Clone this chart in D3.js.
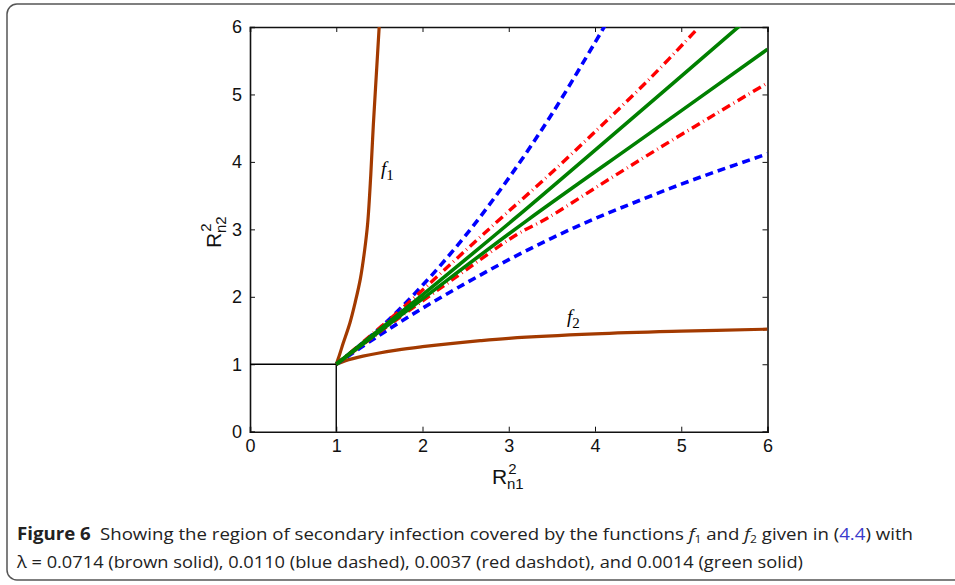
<!DOCTYPE html>
<html>
<head>
<meta charset="utf-8">
<script src="https://cdn.jsdelivr.net/npm/d3@7"></script>
<style>
  body { margin: 0; background: #fff; }
  svg { display: block; }
</style>
</head>
<body>
<svg id="chart" width="955" height="585"></svg>
<script>
// values
let xTicks = [0, 1, 2, 3, 4, 5, 6];
let yTicks = [0, 1, 2, 3, 4, 5, 6];

// brown solid, lambda = 0.0714
let f1 = [[1, 1], [1.04, 1.15], [1.08, 1.31], [1.16, 1.62], [1.22, 1.92], [1.28, 2.27], [1.33, 2.7],
          [1.365, 3.1], [1.4, 3.8], [1.43, 4.55], [1.465, 5.3], [1.5, 6.05]];
let f2 = [[1, 1], [1.1, 1.05], [1.31, 1.12], [1.7, 1.21], [2, 1.26], [2.67, 1.35], [3, 1.385],
          [4, 1.45], [5, 1.49], [6, 1.52]];
// blue dashed, lambda = 0.0110
let blueUpper = [[1, 1], [1.5, 1.53], [2, 2.17], [2.5, 2.91], [3, 3.76], [3.5, 4.71], [4, 5.77], [4.12, 6.03]];
let blueLower = [[1, 1], [1.5, 1.43], [2, 1.83], [2.5, 2.2], [3, 2.55], [3.5, 2.87], [4, 3.16],
                 [4.5, 3.42], [5, 3.67], [5.5, 3.9], [6, 4.12]];
// red dashdot, lambda = 0.0037
let redUpper = [[1, 1], [1.74, 1.8], [2.51, 2.7], [2.94, 3.2], [3.48, 3.82], [4.06, 4.52], [4.64, 5.24], [5.17, 5.95]];
let redLower = [[1, 1], [1.74, 1.7], [2.32, 2.23], [3.09, 2.92], [3.44, 3.16], [4.06, 3.66], [4.7, 4.17],
                [5.41, 4.72], [6, 5.17]];
// green solid, lambda = 0.0014
let greenUpper = [[1, 1], [2, 2.03], [3.05, 3.14], [4.37, 4.58], [5.68, 6.02]];
let greenLower = [[1, 1], [2, 1.97], [3.21, 3.13], [4.64, 4.43], [6, 5.67]];

let svg = d3.select("#chart");

// outer rounded frame of the figure panel
svg.append("rect")
  .attr("x", 7).attr("y", 4)
  .attr("width", 1000).attr("height", 576)
  .attr("rx", 10)
  .attr("fill", "none")
  .attr("stroke", "#555")
  .attr("stroke-width", 1.5);

let x = d3.scaleLinear().domain([0, 6]).range([250, 767.5]);
let y = d3.scaleLinear().domain([0, 6]).range([431.7, 27]);

svg.append("clipPath").attr("id", "plotClip")
  .append("rect")
  .attr("x", x(0)).attr("y", y(6))
  .attr("width", x(6) - x(0)).attr("height", y(0) - y(6));

// axes with inward ticks on all four sides
let axBottom = svg.append("g")
  .attr("transform", "translate(0," + y(0) + ")")
  .call(d3.axisBottom(x).tickValues(xTicks).tickSize(-5).tickPadding(9).tickFormat(d3.format("d")));
let axTop = svg.append("g")
  .attr("transform", "translate(0," + y(6) + ")")
  .call(d3.axisTop(x).tickValues(xTicks).tickSize(-5).tickFormat(""));
let axLeft = svg.append("g")
  .attr("transform", "translate(" + x(0) + ",0)")
  .call(d3.axisLeft(y).tickValues(yTicks).tickSize(-5).tickPadding(8).tickFormat(d3.format("d")));
let axRight = svg.append("g")
  .attr("transform", "translate(" + x(6) + ",0)")
  .call(d3.axisRight(y).tickValues(yTicks).tickSize(-5).tickFormat(""));

[axBottom, axTop, axLeft, axRight].forEach(function(g) {
  g.select(".domain").attr("stroke", "#111").attr("stroke-width", 1.6);
  g.selectAll(".tick line").attr("stroke", "#111");
  g.selectAll(".tick text")
    .attr("fill", "#111")
    .attr("font-family", "'Liberation Sans', Arial, sans-serif")
    .attr("font-size", 18);
});
axBottom.selectAll(".tick text").attr("dy", "0.62em");

// unit square around the origin
let square = [[0, 1], [1, 1], [1, 0]];
svg.append("path")
  .attr("d", d3.line().x(d => x(d[0])).y(d => y(d[1]))(square))
  .attr("fill", "none")
  .attr("stroke", "#000")
  .attr("stroke-width", 1.4);

let curve = d3.line()
  .x(d => x(d[0]))
  .y(d => y(d[1]))
  .curve(d3.curveCatmullRom);

let plot = svg.append("g").attr("clip-path", "url(#plotClip)");

function drawCurve(pts, color, width, dash) {
  let p = plot.append("path")
    .attr("d", curve(pts))
    .attr("fill", "none")
    .attr("stroke", color)
    .attr("stroke-width", width);
  if (dash) p.attr("stroke-dasharray", dash);
  return p;
}

drawCurve(f1, "#a33a00", 3.2);
drawCurve(f2, "#a33a00", 3.2);
drawCurve(blueUpper, "#0000ff", 3.6, "8,5");
drawCurve(blueLower, "#0000ff", 3.6, "8,5");
drawCurve(redUpper, "#ff0000", 3.4, "9,4,0.8,4");
drawCurve(redLower, "#ff0000", 3.4, "9,4,0.8,4");
drawCurve(greenUpper, "#008000", 3.6);
drawCurve(greenLower, "#008000", 3.6);

// curve labels
function fLabel(px, py, sub) {
  let t = svg.append("text")
    .attr("x", px).attr("y", py)
    .attr("font-family", "'Liberation Serif', 'Times New Roman', serif")
    .attr("font-size", 19)
    .attr("fill", "#000");
  t.append("tspan").attr("font-style", "italic").text("f");
  t.append("tspan").attr("dy", 5).attr("font-size", 15).text(sub);
}
fLabel(381, 175, "1");
fLabel(567, 323, "2");

// axis labels (superscript 2 stacked over the subscript)
function axisLabel(sel, sub) {
  sel.attr("font-family", "'Liberation Sans', Arial, sans-serif")
    .attr("font-size", 21)
    .attr("fill", "#111");
  sel.append("tspan").text("R");
  sel.append("tspan").attr("dx", 1).attr("dy", -10).attr("font-size", 15).text("2");
  sel.append("tspan").attr("dx", -9.5).attr("dy", 15).attr("font-size", 15).text(sub);
}
axisLabel(svg.append("text").attr("x", 492).attr("y", 484), "n1");
axisLabel(svg.append("text").attr("transform", "translate(221,248) rotate(-90)"), "n2");

// caption
let capFont = "'Open Sans', 'Noto Sans', sans-serif";
let cap1 = svg.append("text")
  .attr("x", 17).attr("y", 540)
  .attr("font-family", capFont)
  .attr("font-size", 17)
  .attr("fill", "#222")
  .attr("textLength", 896)
  .attr("lengthAdjust", "spacingAndGlyphs");
cap1.append("tspan").attr("font-weight", "bold").text("Figure 6");
cap1.append("tspan").text("\u2002Showing the region of secondary infection covered by the functions ");
cap1.append("tspan").attr("font-style", "italic").text("f");
cap1.append("tspan").attr("font-size", 11).attr("dy", 3).text("1");
cap1.append("tspan").attr("dy", -3).text(" and ");
cap1.append("tspan").attr("font-style", "italic").text("f");
cap1.append("tspan").attr("font-size", 11).attr("dy", 3).text("2");
cap1.append("tspan").attr("dy", -3).text(" given in (");
cap1.append("tspan").attr("fill", "#3a3acc").text("4.4");
cap1.append("tspan").text(") with");

svg.append("text")
  .attr("x", 17).attr("y", 568)
  .attr("font-family", capFont)
  .attr("font-size", 17)
  .attr("fill", "#222")
  .attr("textLength", 786)
  .attr("lengthAdjust", "spacingAndGlyphs")
  .text("\u03bb = 0.0714 (brown solid), 0.0110 (blue dashed), 0.0037 (red dashdot), and 0.0014 (green solid)");
</script>
</body>
</html>
